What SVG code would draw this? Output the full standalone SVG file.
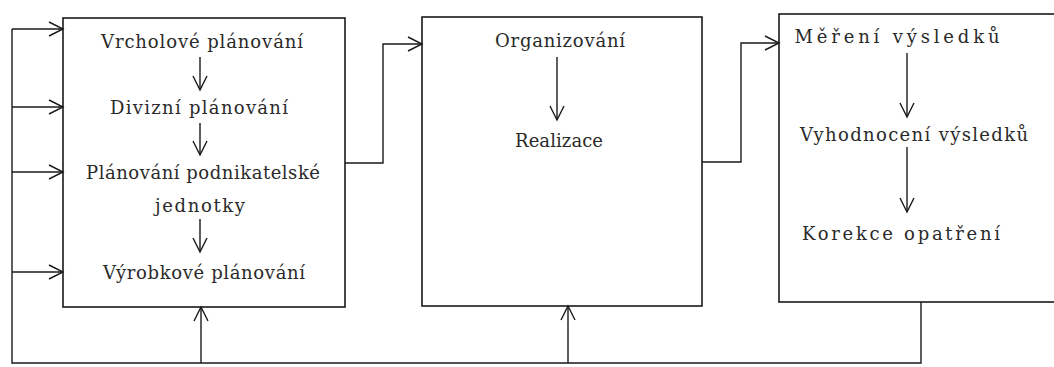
<svg xmlns="http://www.w3.org/2000/svg" width="1054" height="367" viewBox="0 0 1054 367">
<defs>
<style>
.box{fill:#fff;stroke:#1a1a1a;stroke-width:1.6}
.ln{fill:none;stroke:#1a1a1a;stroke-width:1.4}
text{font-family:'DejaVu Serif','Liberation Serif',serif;font-size:18px;fill:#2a2a2a;text-anchor:middle}
</style>
<marker id="ah" viewBox="-16 -9 18 18" refX="0" refY="0" markerWidth="18" markerHeight="18" markerUnits="userSpaceOnUse" orient="auto">
<path d="M-14,-7 L0,0 L-14,7" fill="none" stroke="#1a1a1a" stroke-width="1.4"/>
</marker>
</defs>
<rect width="1054" height="367" fill="#fff"/>
<g id="planovani">
<rect class="box" x="63" y="18" width="282" height="289"/>
<text x="202" y="48" textLength="202" lengthAdjust="spacing">Vrcholové plánování</text>
<text x="199" y="114" textLength="178" lengthAdjust="spacing">Divizní plánování</text>
<text x="203" y="179" textLength="234" lengthAdjust="spacing">Plánování podnikatelské</text>
<text x="200" y="212" textLength="90" lengthAdjust="spacing">jednotky</text>
<text x="204" y="279" textLength="202" lengthAdjust="spacing">Výrobkové plánování</text>
<line class="ln" x1="200" y1="57" x2="200" y2="90" marker-end="url(#ah)"/>
<line class="ln" x1="200" y1="123" x2="200" y2="155" marker-end="url(#ah)"/>
<line class="ln" x1="200" y1="219" x2="200" y2="252" marker-end="url(#ah)"/>
</g>
<g id="organizovani">
<rect class="box" x="422" y="17" width="280" height="289"/>
<text x="560" y="47" textLength="130" lengthAdjust="spacing">Organizování</text>
<text x="559" y="147" textLength="88" lengthAdjust="spacing">Realizace</text>
<line class="ln" x1="557" y1="57" x2="557" y2="120" marker-end="url(#ah)"/>
</g>
<g id="kontrola">
<rect class="box" x="779" y="14" width="290" height="288"/>
<text x="897" y="43" textLength="205" lengthAdjust="spacing">Měření výsledků</text>
<text x="914" y="141" textLength="228" lengthAdjust="spacing">Vyhodnocení výsledků</text>
<text x="901" y="240" textLength="198" lengthAdjust="spacing">Korekce opatření</text>
<line class="ln" x1="907" y1="53" x2="907" y2="117" marker-end="url(#ah)"/>
<line class="ln" x1="907" y1="147" x2="907" y2="212" marker-end="url(#ah)"/>
</g>
<g id="connectors">
<path class="ln" d="M345,163 H383 V44 H422" marker-end="url(#ah)"/>
<path class="ln" d="M702,162 H741 V43 H779" marker-end="url(#ah)"/>
<path class="ln" d="M921,302 V363 H12 V29"/>
<line class="ln" x1="12" y1="29" x2="63" y2="29" marker-end="url(#ah)"/>
<line class="ln" x1="12" y1="107" x2="63" y2="107" marker-end="url(#ah)"/>
<line class="ln" x1="12" y1="172" x2="63" y2="172" marker-end="url(#ah)"/>
<line class="ln" x1="12" y1="272" x2="63" y2="272" marker-end="url(#ah)"/>
<line class="ln" x1="201" y1="363" x2="201" y2="307" marker-end="url(#ah)"/>
<line class="ln" x1="568" y1="363" x2="568" y2="306" marker-end="url(#ah)"/>
</g>
</svg>
